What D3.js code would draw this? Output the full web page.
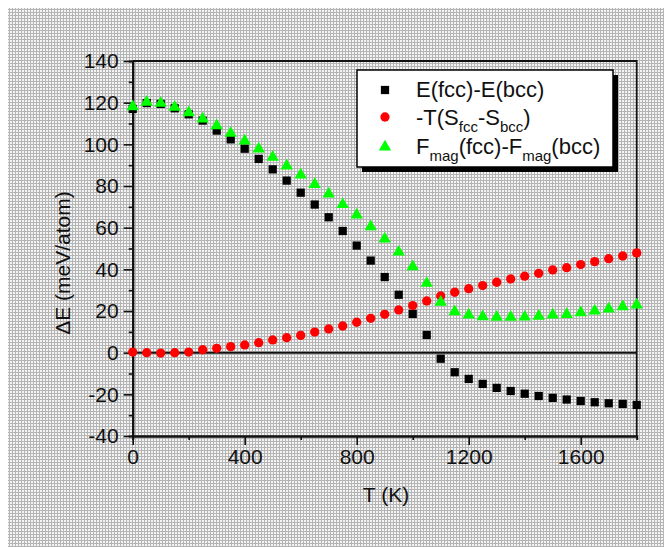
<!DOCTYPE html>
<html>
<head>
<meta charset="utf-8">
<script src="https://cdn.jsdelivr.net/npm/d3@7"></script>
<style>
  body { margin: 0; background: #fff; }
  svg { display: block; font-family: "Liberation Sans", Arial, sans-serif; }
</style>
</head>
<body>
<svg id="chart"></svg>
<script>
// temperature (K)
let temps = [0, 50, 100, 150, 200, 250, 300, 350, 400, 450, 500, 550, 600, 650, 700, 750, 800, 850, 900,
             950, 1000, 1050, 1100, 1150, 1200, 1250, 1300, 1350, 1400, 1450, 1500, 1550, 1600, 1650, 1700, 1750, 1800];

// E(fcc)-E(bcc)
let dE = [117, 119.8, 119.4, 117.3, 114.4, 111.4, 106.6, 102.4, 97.9, 93, 88, 82.6, 76.8, 71.1, 65, 58.4, 51.4,
          44.2, 36.3, 27.8, 18.6, 8.5, -2.9, -9.4, -12.6, -15, -16.9, -18.4, -19.7, -20.8, -21.7, -22.5, -23.2,
          -23.8, -24.3, -24.6, -25.1];

// -T(Sfcc-Sbcc)
let TdS = [0.3, 0, -0.2, 0, 0.3, 1.4, 2.1, 2.9, 3.7, 4.8, 6.1, 7.2, 8.3, 9.9, 11.4, 12.8, 14.6,
           16.5, 18.4, 20.5, 22.6, 24.8, 27.2, 29.0, 30.7, 32.2, 33.8, 35.4, 36.7, 38.1, 39.7, 40.8, 42.3,
           43.7, 45.1, 46.4, 47.9];

// Fmag(fcc)-Fmag(bcc)
let Fmag = [118.1, 120.2, 119.7, 117.8, 115.2, 112.2, 109, 105.3, 101.6, 97.8, 93.8, 89.6, 85.3, 80.8, 76.2, 71.1, 66.1,
            60.5, 54.6, 48.3, 41.3, 33.3, 24.2, 19.7, 18.1, 17.3, 17.0, 17.0, 17.1, 17.5, 18.1, 18.4, 19.2,
            20, 21, 22.1, 22.9];

let xTicks = [0, 400, 800, 1200, 1600];
let xMinor = [200, 600, 1000, 1400];
let yTicks = [-40, -20, 0, 20, 40, 60, 80, 100, 120, 140];
let yMinor = [-30, -10, 10, 30, 50, 70, 90, 110, 130];

let W = 664, H = 547;
let pL = 132.7, pR = 636.7, pT = 61, pB = 436;

let svg = d3.select('#chart').attr('width', W).attr('height', H);

// halftone-ish grey background
let defs = svg.append('defs');
let pat = defs.append('pattern')
    .attr('id', 'bg')
    .attr('width', 3).attr('height', 3)
    .attr('patternUnits', 'userSpaceOnUse');
pat.append('rect').attr('width', 3).attr('height', 3).attr('fill', '#f4f4f4');
pat.append('rect').attr('width', 3).attr('height', 1).attr('fill', '#b4b4b4');
pat.append('rect').attr('width', 1).attr('height', 3).attr('fill', '#b4b4b4');

svg.append('rect')
    .attr('x', 8).attr('y', 8)
    .attr('width', W - 8).attr('height', H - 8)
    .attr('fill', 'url(#bg)');

let x = d3.scaleLinear().domain([0, 1800]).range([pL, pR]);
let y = d3.scaleLinear().domain([-40, 140]).range([pB, pT]);

// frame top / right
svg.append('path')
    .attr('d', `M${pL},${pT}H${pR}V${pB}`)
    .attr('fill', 'none')
    .attr('stroke', '#111')
    .attr('stroke-width', 1.8);

// zero line
svg.append('line')
    .attr('x1', pL).attr('x2', pR)
    .attr('y1', y(0)).attr('y2', y(0))
    .attr('stroke', '#111')
    .attr('stroke-width', 2);

// axes
let styleAxis = g => {
    g.select('.domain').attr('stroke', '#111').attr('stroke-width', 2);
    g.selectAll('.tick line').attr('stroke', '#111').attr('stroke-width', 1.6);
    g.selectAll('.tick text').attr('fill', '#111').style('font-size', '21px')
        .style('font-family', '"Liberation Sans", Arial, sans-serif');
};
let fmt = d => String(d);

svg.append('g')
    .attr('transform', `translate(${pL},0)`)
    .call(d3.axisLeft(y).tickValues(yMinor).tickSize(4).tickFormat(''))
    .call(styleAxis);

svg.append('g')
    .attr('transform', `translate(0,${pB})`)
    .call(d3.axisBottom(x).tickValues(xMinor).tickSize(4).tickFormat(''))
    .call(styleAxis);

svg.append('g')
    .attr('transform', `translate(${pL},0)`)
    .call(d3.axisLeft(y).tickValues(yTicks).tickFormat(fmt).tickSize(9).tickPadding(5).tickSizeOuter(0))
    .call(styleAxis);

svg.append('g')
    .attr('transform', `translate(0,${pB})`)
    .call(d3.axisBottom(x).tickValues(xTicks).tickFormat(fmt).tickSize(9).tickPadding(4).tickSizeOuter(0))
    .call(styleAxis);

// axis titles
svg.append('text')
    .attr('x', 386).attr('y', 502)
    .attr('text-anchor', 'middle')
    .style('font-size', '21px')
    .attr('fill', '#111')
    .text('T (K)');

svg.append('text')
    .attr('transform', 'translate(70,263) rotate(-90)')
    .attr('text-anchor', 'middle')
    .style('font-size', '21px')
    .attr('fill', '#111')
    .text('\u0394E (meV/atom)');

// markers
let sq = d3.symbol().type(d3.symbolSquare).size(68);
let ci = d3.symbol().type(d3.symbolCircle).size(68);
let tri = d3.symbol().type(d3.symbolTriangle).size(66);

let series = [
    { vals: dE, sym: sq, color: '#000' },
    { vals: TdS, sym: ci, color: '#ff0000' },
    { vals: Fmag, sym: tri, color: '#00ff00' }
];

series.forEach(s => {
    svg.append('g').selectAll('path')
        .data(temps).enter()
        .append('path')
        .attr('d', s.sym)
        .attr('transform', (d, i) => `translate(${x(d)},${y(s.vals[i])})`)
        .attr('fill', s.color);
});

// legend
let lg = svg.append('g');
lg.append('rect')
    .attr('x', 362).attr('y', 75).attr('width', 256).attr('height', 97)
    .attr('fill', '#000');
lg.append('rect')
    .attr('x', 357).attr('y', 70).attr('width', 256).attr('height', 97)
    .attr('fill', '#fff')
    .attr('stroke', '#000')
    .attr('stroke-width', 1.5);

let rows = [
    { sym: sq, color: '#000', cy: 90, base: 97, parts: [['E(fcc)-E(bcc)', 0]] },
    { sym: ci, color: '#ff0000', cy: 117, base: 125, parts: [['-T(S', 0], ['fcc', 1], ['-S', 0], ['bcc', 1], [')', 0]] },
    { sym: tri, color: '#00ff00', cy: 147, base: 154, parts: [['F', 0], ['mag', 1], ['(fcc)-F', 0], ['mag', 1], ['(bcc)', 0]] }
];

rows.forEach(r => {
    lg.append('path')
        .attr('d', r.sym)
        .attr('transform', `translate(385,${r.cy})`)
        .attr('fill', r.color);
    let t = lg.append('text')
        .attr('x', 416).attr('y', r.base)
        .style('font-size', '22px')
        .attr('fill', '#111');
    let shift = 0;
    r.parts.forEach(p => {
        let dy = p[1] ? 7 - shift : -shift;
        shift = p[1] ? 7 : 0;
        t.append('tspan')
            .attr('dy', dy)
            .style('font-size', p[1] ? '15px' : '22px')
            .text(p[0]);
    });
});
</script>
</body>
</html>
